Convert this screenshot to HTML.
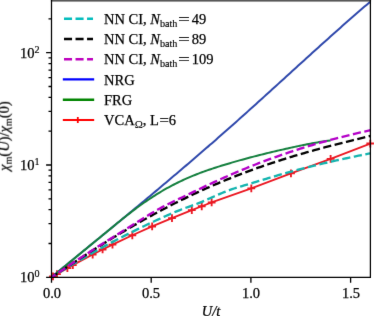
<!DOCTYPE html>
<html><head><meta charset="utf-8"><title>plot</title>
<style>
html,body{margin:0;padding:0;background:#fff;}
body{width:374px;height:316px;overflow:hidden;position:relative;font-family:"Liberation Serif",serif;font-size:14.5px;color:#000;}
.t{position:absolute;white-space:nowrap;line-height:1;will-change:transform;-webkit-text-stroke:0.25px #000;}
.lg{letter-spacing:0px;}
.m{letter-spacing:0;}
.sub{-webkit-text-stroke:0.15px #000;font-size:0.7em;position:relative;top:0.27em;letter-spacing:0;}
.om{-webkit-text-stroke:0.1px #000;font-size:0.76em;position:relative;top:0.25em;}
.eq2{display:inline-block;transform:scaleX(1.15);margin:0 0.8px 0 0.8px;}
.sup{-webkit-text-stroke:0.15px #000;font-size:0.7em;position:relative;top:-0.51em;}
.eq{display:inline-block;transform:scaleX(1.4);margin:0 3.5px 0 2.5px;}
i{font-style:italic;}
.wrap{position:absolute;left:-10px;top:-10px;width:394px;height:336px;background:#fff;filter:url(#soft);}
.in{position:absolute;left:10px;top:10px;width:374px;height:316px;}
</style></head><body><svg width="0" height="0" style="position:absolute"><defs><filter id="soft" x="0" y="0" width="100%" height="100%" color-interpolation-filters="sRGB"><feConvolveMatrix order="3" kernelMatrix="0.00490 0.06020 0.00490 0.06020 0.73960 0.06020 0.00490 0.06020 0.00490" divisor="1" edgeMode="duplicate" preserveAlpha="true"/></filter></defs></svg><div class="wrap"><div class="in">
<svg width="374" height="316" viewBox="0 0 374 316" style="position:absolute;left:0;top:0;overflow:visible"><rect x="0" y="0" width="374" height="316" fill="#fff"/><defs><clipPath id="c"><rect x="51.5" y="0" width="318.9" height="277.3"/></clipPath></defs><path d="M53.00,276.41 L56.97,274.09 L67.38,268.13 L72.83,265.09 L92.66,254.51 L102.58,249.47 L112.49,244.59 L132.32,235.26 L152.15,226.46 L171.98,218.10 L191.81,210.13 L201.73,206.26 L211.64,202.45 L251.30,188.34 L290.96,173.40 L330.62,158.86 L370.28,143.53" fill="none" stroke="#eb1923" stroke-width="1.85" stroke-linejoin="round"/><path d="M49.10,276.41H56.90M53.00,272.51V280.31M53.07,274.09H60.87M56.97,270.19V277.99M63.48,268.13H71.28M67.38,264.23V272.03M68.93,265.09H76.73M72.83,261.19V268.99M88.76,254.51H96.56M92.66,250.61V258.41M98.67,249.47H106.48M102.58,245.57V253.37M108.59,244.59H116.39M112.49,240.69V248.49M128.42,235.26H136.22M132.32,231.36V239.16M148.25,226.46H156.05M152.15,222.56V230.36M168.08,218.10H175.88M171.98,214.20V222.00M187.91,210.13H195.71M191.81,206.23V214.03M197.83,206.26H205.63M201.73,202.36V210.16M207.74,202.45H215.54M211.64,198.55V206.35M247.40,188.34H255.20M251.30,184.44V192.24M287.06,173.40H294.86M290.96,169.50V177.30M326.72,158.86H334.52M330.62,154.96V162.76M366.38,143.53H374.18M370.28,139.63V147.43" fill="none" stroke="#eb1923" stroke-width="1.85"/><g clip-path="url(#c)" fill="none" stroke-linejoin="round"><path d="M51.50,277.30 L53.51,275.63 L55.51,273.96 L57.52,272.30 L59.53,270.63 L61.53,268.97 L63.54,267.31 L65.55,265.66 L67.55,264.00 L69.56,262.35 L71.57,260.70 L73.57,259.05 L75.58,257.40 L77.59,255.75 L79.59,254.10 L81.60,252.45 L83.60,250.81 L85.61,249.16 L87.62,247.52 L89.62,245.87 L91.63,244.23 L93.64,242.58 L95.64,240.94 L97.65,239.30 L99.66,237.65 L101.66,236.01 L103.67,234.36 L105.68,232.71 L107.68,231.07 L109.69,229.42 L111.70,227.77 L113.70,226.12 L115.71,224.47 L117.72,222.82 L119.72,221.17 L121.73,219.51 L123.74,217.86 L125.74,216.20 L127.75,214.54 L129.76,212.88 L131.76,211.22 L133.77,209.55 L135.77,207.89 L137.78,206.22 L139.79,204.55 L141.79,202.88 L143.80,201.21 L145.81,199.53 L147.81,197.85 L149.82,196.17 L151.83,194.49 L153.83,192.80 L155.84,191.12 L157.85,189.43 L159.85,187.73 L161.86,186.04 L163.87,184.34 L165.87,182.64 L167.88,180.94 L169.89,179.23 L171.89,177.53 L173.90,175.84 L175.91,174.14 L177.91,172.44 L179.92,170.74 L181.93,169.03 L183.93,167.33 L185.94,165.62 L187.94,163.90 L189.95,162.19 L191.96,160.47 L193.96,158.75 L195.97,157.02 L197.98,155.29 L199.98,153.56 L201.99,151.83 L204.00,150.10 L206.00,148.36 L208.01,146.62 L210.02,144.87 L212.02,143.13 L214.03,141.38 L216.04,139.63 L218.04,137.87 L220.05,136.11 L222.06,134.35 L224.06,132.59 L226.07,130.83 L228.08,129.06 L230.08,127.29 L232.09,125.51 L234.10,123.72 L236.10,121.93 L238.11,120.13 L240.11,118.33 L242.12,116.54 L244.13,114.73 L246.13,112.93 L248.14,111.13 L250.15,109.32 L252.15,107.51 L254.16,105.70 L256.17,103.89 L258.17,102.07 L260.18,100.26 L262.19,98.44 L264.19,96.62 L266.20,94.80 L268.21,92.98 L270.21,91.16 L272.22,89.34 L274.23,87.52 L276.23,85.69 L278.24,83.87 L280.25,82.05 L282.25,80.22 L284.26,78.39 L286.27,76.57 L288.27,74.74 L290.28,72.92 L292.28,71.09 L294.29,69.26 L296.30,67.44 L298.30,65.61 L300.31,63.79 L302.32,61.97 L304.32,60.14 L306.33,58.32 L308.34,56.50 L310.34,54.68 L312.35,52.86 L314.36,51.05 L316.36,49.23 L318.37,47.42 L320.38,45.61 L322.38,43.80 L324.39,41.99 L326.40,40.19 L328.40,38.39 L330.41,36.59 L332.42,34.80 L334.42,33.00 L336.43,31.21 L338.44,29.43 L340.44,27.65 L342.45,25.87 L344.45,24.09 L346.46,22.32 L348.47,20.56 L350.47,18.79 L352.48,17.04 L354.49,15.29 L356.49,13.54 L358.50,11.80 L360.51,10.06 L362.51,8.33 L364.52,6.61 L366.53,4.89 L368.53,3.17 L370.54,1.47" stroke="#3049ac" stroke-width="2.0" stroke-linecap="square"/><path d="M51.50,277.30 L53.25,275.84 L55.00,274.39 L56.75,272.94 L58.50,271.48 L60.25,270.04 L62.00,268.59 L63.75,267.14 L65.50,265.70 L67.25,264.25 L68.99,262.81 L70.74,261.37 L72.49,259.93 L74.24,258.49 L75.99,257.06 L77.74,255.62 L79.49,254.18 L81.24,252.75 L82.99,251.31 L84.74,249.88 L86.49,248.44 L88.24,247.01 L89.99,245.58 L91.74,244.14 L93.49,242.71 L95.24,241.27 L96.99,239.84 L98.74,238.41 L100.48,236.97 L102.23,235.54 L103.98,234.10 L105.73,232.67 L107.48,231.23 L109.23,229.80 L110.98,228.36 L112.73,226.92 L114.48,225.48 L116.23,224.04 L117.98,222.60 L119.73,221.17 L121.48,219.75 L123.23,218.34 L124.98,216.95 L126.73,215.56 L128.48,214.19 L130.23,212.84 L131.97,211.49 L133.72,210.17 L135.47,208.86 L137.22,207.56 L138.97,206.28 L140.72,205.02 L142.47,203.77 L144.22,202.54 L145.97,201.33 L147.72,200.14 L149.47,198.96 L151.22,197.81 L152.97,196.67 L154.72,195.55 L156.47,194.45 L158.22,193.37 L159.97,192.30 L161.72,191.26 L163.46,190.23 L165.21,189.23 L166.96,188.24 L168.71,187.28 L170.46,186.33 L172.21,185.40 L173.96,184.49 L175.71,183.60 L177.46,182.73 L179.21,181.87 L180.96,181.04 L182.71,180.22 L184.46,179.42 L186.21,178.64 L187.96,177.87 L189.71,177.12 L191.46,176.38 L193.21,175.67 L194.96,174.96 L196.70,174.27 L198.45,173.60 L200.20,172.93 L201.95,172.28 L203.70,171.65 L205.45,171.02 L207.20,170.40 L208.95,169.80 L210.70,169.20 L212.45,168.62 L214.20,168.04 L215.95,167.47 L217.70,166.91 L219.45,166.36 L221.20,165.81 L222.95,165.27 L224.70,164.74 L226.45,164.21 L228.19,163.68 L229.94,163.17 L231.69,162.65 L233.44,162.15 L235.19,161.64 L236.94,161.15 L238.69,160.65 L240.44,160.16 L242.19,159.68 L243.94,159.20 L245.69,158.72 L247.44,158.25 L249.19,157.78 L250.94,157.32 L252.69,156.86 L254.44,156.40 L256.19,155.95 L257.94,155.50 L259.68,155.06 L261.43,154.62 L263.18,154.18 L264.93,153.75 L266.68,153.32 L268.43,152.89 L270.18,152.47 L271.93,152.05 L273.68,151.63 L275.43,151.22 L277.18,150.81 L278.93,150.40 L280.68,150.00 L282.43,149.60 L284.18,149.20 L285.93,148.80 L287.68,148.41 L289.43,148.02 L291.18,147.64 L292.92,147.25 L294.67,146.87 L296.42,146.50 L298.17,146.12 L299.92,145.76 L301.67,145.39 L303.42,145.03 L305.17,144.68 L306.92,144.33 L308.67,143.99 L310.42,143.66 L312.17,143.33 L313.92,143.00 L315.67,142.69 L317.42,142.39 L319.17,142.09 L320.92,141.81 L322.67,141.53 L324.41,141.27 L326.16,141.02 L327.91,140.78 L329.66,140.56" stroke="#15803f" stroke-width="2.0" stroke-linecap="square"/><path d="M51.50,277.30 L53.51,276.04 L55.51,274.79 L57.52,273.55 L59.53,272.31 L61.53,271.08 L63.54,269.85 L65.55,268.63 L67.55,267.42 L69.56,266.22 L71.57,265.02 L73.57,263.82 L75.58,262.64 L77.59,261.46 L79.59,260.29 L81.60,259.12 L83.60,257.96 L85.61,256.81 L87.62,255.66 L89.62,254.52 L91.63,253.39 L93.64,252.26 L95.64,251.14 L97.65,250.03 L99.66,248.92 L101.66,247.82 L103.67,246.72 L105.68,245.64 L107.68,244.56 L109.69,243.48 L111.70,242.41 L113.70,241.35 L115.71,240.30 L117.72,239.25 L119.72,238.21 L121.73,237.17 L123.74,236.14 L125.74,235.12 L127.75,234.10 L129.76,233.09 L131.76,232.09 L133.77,231.09 L135.77,230.10 L137.78,229.12 L139.79,228.14 L141.79,227.17 L143.80,226.20 L145.81,225.24 L147.81,224.29 L149.82,223.35 L151.83,222.41 L153.83,221.47 L155.84,220.55 L157.85,219.63 L159.85,218.71 L161.86,217.80 L163.87,216.90 L165.87,216.01 L167.88,215.12 L169.89,214.25 L171.89,213.38 L173.90,212.52 L175.91,211.68 L177.91,210.86 L179.92,210.05 L181.93,209.27 L183.93,208.50 L185.94,207.76 L187.94,207.04 L189.95,206.33 L191.96,205.62 L193.96,204.91 L195.97,204.17 L197.98,203.41 L199.98,202.62 L201.99,201.79 L204.00,200.94 L206.00,200.06 L208.01,199.17 L210.02,198.27 L212.02,197.37 L214.03,196.47 L216.04,195.58 L218.04,194.71 L220.05,193.84 L222.06,193.00 L224.06,192.17 L226.07,191.37 L228.08,190.60 L230.08,189.86 L232.09,189.16 L234.10,188.49 L236.10,187.86 L238.11,187.25 L240.11,186.65 L242.12,186.07 L244.13,185.48 L246.13,184.89 L248.14,184.30 L250.15,183.70 L252.15,183.09 L254.16,182.47 L256.17,181.86 L258.17,181.24 L260.18,180.62 L262.19,180.01 L264.19,179.40 L266.20,178.79 L268.21,178.18 L270.21,177.59 L272.22,176.99 L274.23,176.41 L276.23,175.82 L278.24,175.24 L280.25,174.67 L282.25,174.10 L284.26,173.54 L286.27,172.98 L288.27,172.42 L290.28,171.87 L292.28,171.33 L294.29,170.79 L296.30,170.25 L298.30,169.72 L300.31,169.19 L302.32,168.67 L304.32,168.15 L306.33,167.64 L308.34,167.13 L310.34,166.62 L312.35,166.12 L314.36,165.63 L316.36,165.14 L318.37,164.65 L320.38,164.16 L322.38,163.68 L324.39,163.21 L326.40,162.74 L328.40,162.27 L330.41,161.80 L332.42,161.34 L334.42,160.89 L336.43,160.44 L338.44,159.99 L340.44,159.54 L342.45,159.10 L344.45,158.66 L346.46,158.23 L348.47,157.80 L350.47,157.37 L352.48,156.95 L354.49,156.53 L356.49,156.11 L358.50,155.70 L360.51,155.29 L362.51,154.88 L364.52,154.48 L366.53,154.08 L368.53,153.68 L370.54,153.29" stroke="#14b4af" stroke-width="2.35" stroke-dasharray="8.21 3.55" stroke-dashoffset="1.9"/><path d="M51.50,277.30 L53.51,275.96 L55.51,274.62 L57.52,273.28 L59.53,271.95 L61.53,270.62 L63.54,269.29 L65.55,267.96 L67.55,266.64 L69.56,265.32 L71.57,264.00 L73.57,262.69 L75.58,261.38 L77.59,260.08 L79.59,258.78 L81.60,257.48 L83.60,256.19 L85.61,254.90 L87.62,253.62 L89.62,252.34 L91.63,251.06 L93.64,249.79 L95.64,248.53 L97.65,247.27 L99.66,246.01 L101.66,244.76 L103.67,243.51 L105.68,242.28 L107.68,241.04 L109.69,239.81 L111.70,238.59 L113.70,237.37 L115.71,236.16 L117.72,234.95 L119.72,233.75 L121.73,232.56 L123.74,231.37 L125.74,230.19 L127.75,229.01 L129.76,227.84 L131.76,226.68 L133.77,225.52 L135.77,224.37 L137.78,223.23 L139.79,222.09 L141.79,220.96 L143.80,219.84 L145.81,218.72 L147.81,217.61 L149.82,216.50 L151.83,215.41 L153.83,214.32 L155.84,213.23 L157.85,212.16 L159.85,211.09 L161.86,210.03 L163.87,208.97 L165.87,207.93 L167.88,206.89 L169.89,205.86 L171.89,204.83 L173.90,203.81 L175.91,202.80 L177.91,201.80 L179.92,200.80 L181.93,199.81 L183.93,198.83 L185.94,197.86 L187.94,196.89 L189.95,195.93 L191.96,194.98 L193.96,194.04 L195.97,193.10 L197.98,192.17 L199.98,191.25 L201.99,190.34 L204.00,189.43 L206.00,188.53 L208.01,187.64 L210.02,186.76 L212.02,185.88 L214.03,185.01 L216.04,184.15 L218.04,183.30 L220.05,182.45 L222.06,181.61 L224.06,180.78 L226.07,179.95 L228.08,179.13 L230.08,178.32 L232.09,177.52 L234.10,176.73 L236.10,175.94 L238.11,175.16 L240.11,174.38 L242.12,173.61 L244.13,172.85 L246.13,172.10 L248.14,171.35 L250.15,170.62 L252.15,169.88 L254.16,169.16 L256.17,168.44 L258.17,167.73 L260.18,167.02 L262.19,166.32 L264.19,165.63 L266.20,164.94 L268.21,164.26 L270.21,163.59 L272.22,162.92 L274.23,162.26 L276.23,161.61 L278.24,160.96 L280.25,160.31 L282.25,159.68 L284.26,159.05 L286.27,158.42 L288.27,157.80 L290.28,157.19 L292.28,156.58 L294.29,155.97 L296.30,155.37 L298.30,154.78 L300.31,154.19 L302.32,153.61 L304.32,153.03 L306.33,152.46 L308.34,151.89 L310.34,151.32 L312.35,150.77 L314.36,150.21 L316.36,149.66 L318.37,149.11 L320.38,148.57 L322.38,148.03 L324.39,147.49 L326.40,146.96 L328.40,146.43 L330.41,145.91 L332.42,145.39 L334.42,144.87 L336.43,144.35 L338.44,143.84 L340.44,143.33 L342.45,142.82 L344.45,142.32 L346.46,141.82 L348.47,141.32 L350.47,140.82 L352.48,140.32 L354.49,139.83 L356.49,139.33 L358.50,138.84 L360.51,138.35 L362.51,137.86 L364.52,137.37 L366.53,136.89 L368.53,136.40 L370.54,135.91" stroke="#000" stroke-width="2.35" stroke-dasharray="8.16 3.53" stroke-dashoffset="1.2"/><path d="M51.50,277.30 L53.51,275.94 L55.51,274.57 L57.52,273.22 L59.53,271.86 L61.53,270.51 L63.54,269.16 L65.55,267.82 L67.55,266.47 L69.56,265.13 L71.57,263.80 L73.57,262.47 L75.58,261.14 L77.59,259.82 L79.59,258.50 L81.60,257.18 L83.60,255.87 L85.61,254.56 L87.62,253.26 L89.62,251.96 L91.63,250.66 L93.64,249.37 L95.64,248.09 L97.65,246.80 L99.66,245.53 L101.66,244.25 L103.67,242.98 L105.68,241.72 L107.68,240.46 L109.69,239.21 L111.70,237.95 L113.70,236.71 L115.71,235.46 L117.72,234.22 L119.72,232.98 L121.73,231.74 L123.74,230.50 L125.74,229.26 L127.75,228.02 L129.76,226.77 L131.76,225.52 L133.77,224.27 L135.77,223.02 L137.78,221.76 L139.79,220.51 L141.79,219.25 L143.80,218.00 L145.81,216.75 L147.81,215.51 L149.82,214.29 L151.83,213.08 L153.83,211.89 L155.84,210.73 L157.85,209.59 L159.85,208.47 L161.86,207.38 L163.87,206.32 L165.87,205.28 L167.88,204.27 L169.89,203.27 L171.89,202.28 L173.90,201.31 L175.91,200.34 L177.91,199.38 L179.92,198.42 L181.93,197.47 L183.93,196.51 L185.94,195.55 L187.94,194.58 L189.95,193.62 L191.96,192.65 L193.96,191.68 L195.97,190.71 L197.98,189.75 L199.98,188.78 L201.99,187.82 L204.00,186.86 L206.00,185.91 L208.01,184.96 L210.02,184.02 L212.02,183.09 L214.03,182.16 L216.04,181.23 L218.04,180.32 L220.05,179.41 L222.06,178.51 L224.06,177.61 L226.07,176.72 L228.08,175.84 L230.08,174.96 L232.09,174.10 L234.10,173.24 L236.10,172.38 L238.11,171.53 L240.11,170.69 L242.12,169.86 L244.13,169.04 L246.13,168.22 L248.14,167.41 L250.15,166.60 L252.15,165.80 L254.16,165.01 L256.17,164.23 L258.17,163.45 L260.18,162.68 L262.19,161.92 L264.19,161.16 L266.20,160.41 L268.21,159.67 L270.21,158.93 L272.22,158.20 L274.23,157.48 L276.23,156.77 L278.24,156.06 L280.25,155.36 L282.25,154.66 L284.26,153.97 L286.27,153.29 L288.27,152.62 L290.28,151.95 L292.28,151.29 L294.29,150.63 L296.30,149.98 L298.30,149.34 L300.31,148.71 L302.32,148.08 L304.32,147.45 L306.33,146.84 L308.34,146.23 L310.34,145.62 L312.35,145.03 L314.36,144.44 L316.36,143.85 L318.37,143.27 L320.38,142.70 L322.38,142.13 L324.39,141.57 L326.40,141.02 L328.40,140.47 L330.41,139.93 L332.42,139.39 L334.42,138.86 L336.43,138.34 L338.44,137.82 L340.44,137.30 L342.45,136.80 L344.45,136.29 L346.46,135.80 L348.47,135.31 L350.47,134.82 L352.48,134.34 L354.49,133.86 L356.49,133.39 L358.50,132.93 L360.51,132.47 L362.51,132.01 L364.52,131.56 L366.53,131.12 L368.53,130.68 L370.54,130.24" stroke="#b400c8" stroke-width="2.35" stroke-dasharray="8.16 3.53" stroke-dashoffset="3.2"/></g><rect x="50.9" y="-3" width="320.15" height="4.6" fill="#585858"/><path d="M51.5,-3V277.3H370.4V-3" fill="none" stroke="#000" stroke-width="1.25" stroke-linecap="square"/><path d="M51.50,277.3v5.4M151.20,277.3v5.4M250.90,277.3v5.4M350.60,277.3v5.4M51.5,277.30h-5.4M51.5,165.00h-5.4M51.5,52.70h-5.4M51.5,243.49h-3.0M51.5,223.72h-3.0M51.5,209.69h-3.0M51.5,198.81h-3.0M51.5,189.91h-3.0M51.5,182.40h-3.0M51.5,175.88h-3.0M51.5,170.14h-3.0M51.5,131.19h-3.0M51.5,111.42h-3.0M51.5,97.39h-3.0M51.5,86.51h-3.0M51.5,77.61h-3.0M51.5,70.10h-3.0M51.5,63.58h-3.0M51.5,57.84h-3.0M51.5,18.89h-3.0" fill="none" stroke="#000" stroke-width="1.3"/><path d="M64.0,18.7H93.0" stroke="#00bcbc" stroke-width="2.35" stroke-dasharray="8.05 3.48" fill="none"/><path d="M64.0,39.0H93.0" stroke="#000" stroke-width="2.35" stroke-dasharray="8.05 3.48" fill="none"/><path d="M64.0,59.2H93.0" stroke="#bd00bd" stroke-width="2.35" stroke-dasharray="8.05 3.48" fill="none"/><path d="M64.0,79.4H93.0" stroke="#0000ff" stroke-width="2.35" stroke-linecap="square" fill="none"/><path d="M64.0,99.7H93.0" stroke="#008400" stroke-width="2.35" stroke-linecap="square" fill="none"/><path d="M63.75,120.0H93.25" stroke="#ff0000" stroke-width="1.85" stroke-linecap="square" fill="none"/><path d="M74.8,120.0H80.8M77.8,117.0V123.0" stroke="#ff0000" stroke-width="1.8" fill="none"/></svg>
<div class="t lg" style="left:104.3px;top:11.86px;">NN CI, <span class="m"><i>N</i><span class="sub">bath</span><span class="eq">=</span>49</span></div>
<div class="t lg" style="left:104.3px;top:31.86px;">NN CI, <span class="m"><i>N</i><span class="sub">bath</span><span class="eq">=</span>89</span></div>
<div class="t lg" style="left:104.3px;top:51.86px;">NN CI, <span class="m"><i>N</i><span class="sub">bath</span><span class="eq">=</span>109</span></div>
<div class="t lg" style="left:104.3px;top:72.86px;">NRG</div>
<div class="t lg" style="left:104.3px;top:92.86px;">FRG</div>
<div class="t lg" style="left:104.3px;top:112.86px;">VCA<span class="om">&Omega;</span>, L<span class="eq2">=</span>6</div>
<div class="t " style="left:51.5px;top:285.86px;transform:translateX(-50%);">0.0</div>
<div class="t " style="left:151.2px;top:285.86px;transform:translateX(-50%);">0.5</div>
<div class="t " style="left:250.9px;top:285.86px;transform:translateX(-50%);">1.0</div>
<div class="t " style="left:350.6px;top:285.86px;transform:translateX(-50%);">1.5</div>
<div class="t " style="right:334.6px;top:269.86px;">10<span class="sup">0</span></div>
<div class="t " style="right:334.6px;top:157.86px;">10<span class="sup">1</span></div>
<div class="t " style="right:334.6px;top:45.86px;">10<span class="sup">2</span></div>
<div class="t " style="left:211.0px;top:303.86px;transform:translateX(-50%);"><i>U/t</i></div>
<div class="t" style="left:4.4px;top:135.5px;transform:translate(-50%,-50%) rotate(-90deg);"><i>&chi;</i><span class="sub">m</span>(<i>U</i>)/<i>&chi;</i><span class="sub">m</span>(0)</div>
</div></div></body></html>
